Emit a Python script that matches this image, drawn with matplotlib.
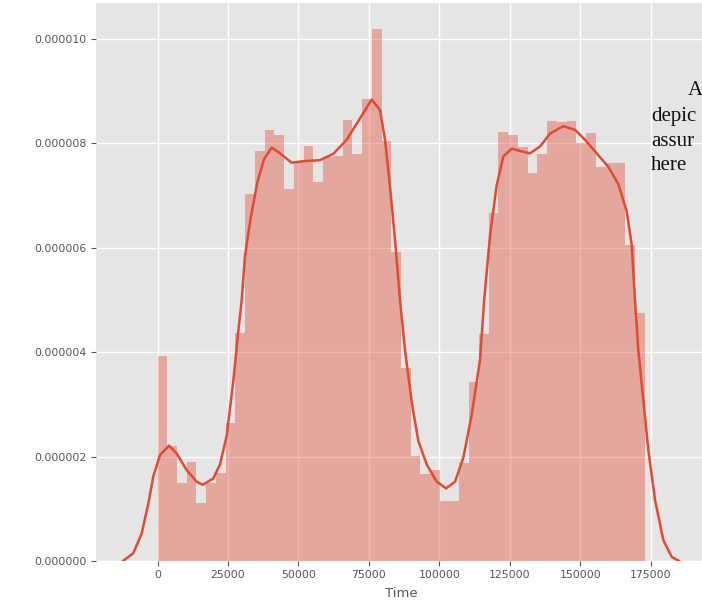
"""
Distribution of transaction Time: histogram + kde, ggplot look.
"""
import numpy as np
import matplotlib
matplotlib.use('Agg')
import matplotlib.pyplot as plt
from matplotlib.ticker import FormatStrFormatter

# histogram: 50 equal bins between the min and max Time
time_min = 0
time_max = 172792
n_bins = 50
# density per bin, in units of 1e-6
bin_density = [
    3.93, 2.21, 1.50, 1.90, 1.11, 1.50, 1.68, 2.64, 4.36, 7.04,
    7.85, 8.25, 8.17, 7.12, 7.65, 7.95, 7.27, 7.74, 7.75, 8.45,
    7.80, 8.85, 10.20, 8.05, 5.92, 3.70, 2.02, 1.66, 1.75, 1.14,
    1.14, 1.88, 3.42, 4.34, 6.66, 8.21, 8.17, 7.94, 7.44, 7.80,
    8.42, 8.41, 8.42, 8.00, 8.20, 7.55, 7.63, 7.63, 6.05, 4.75,
]

# kde curve (Time, density in 1e-6)
kde_time = [
    -12250, -8590, -5600, -3260, -1490, 890, 4100, 6810, 10360, 13900,
    16000, 19800, 22180, 24550, 26900, 28670, 29870, 31050, 33000, 35400,
    37800, 40500, 43460, 47610, 51730, 57650, 62370, 67130, 71850, 76000,
    78940, 80720, 82490, 84270, 86040, 87810, 90180, 92540, 95510, 99060,
    102360, 105560, 108500, 111480, 114420, 115900, 118000, 120350, 122690, 125670,
    128970, 132160, 135710, 139260, 143980, 148130, 151680, 155830, 159950, 163490,
    166470, 168250, 169400, 170590, 172360, 174130, 176510, 179450, 182430, 185040,
]
kde_density = [
    0.00, 0.15, 0.53, 1.10, 1.62, 2.03, 2.21, 2.06, 1.74, 1.52,
    1.46, 1.58, 1.85, 2.40, 3.45, 4.40, 5.00, 5.85, 6.55, 7.25,
    7.70, 7.92, 7.81, 7.63, 7.66, 7.68, 7.80, 8.07, 8.48, 8.84,
    8.64, 8.07, 7.17, 6.15, 5.00, 4.04, 3.05, 2.30, 1.85, 1.52,
    1.39, 1.52, 1.98, 2.80, 3.85, 5.00, 6.25, 7.20, 7.75, 7.90,
    7.85, 7.81, 7.94, 8.19, 8.33, 8.26, 8.07, 7.81, 7.55, 7.22,
    6.70, 6.05, 5.00, 4.04, 3.08, 2.13, 1.17, 0.40, 0.08, 0.00,
]

x_ticks = [0, 25000, 50000, 75000, 100000, 125000, 150000, 175000]
y_ticks = [0, 2e-6, 4e-6, 6e-6, 8e-6, 10e-6]

# bits of the surrounding document text that sit on top of the screenshot
side_text = ['A', 'depic', 'assur', 'here']

plt.style.use('ggplot')
plt.rcParams['font.family'] = 'DejaVu Sans'

fig = plt.figure(figsize=(7.02, 6.05), dpi=100)
fig.patch.set_facecolor('white')
W, H = 702, 605
ax = fig.add_axes([96 / W, 44 / H, 610 / W, 558 / H])

edges = np.linspace(time_min, time_max, n_bins + 1)
heights = np.array(bin_density) * 1e-6
ax.bar(edges[:-1], heights, width=np.diff(edges), align='edge',
       color='#E24A33', alpha=0.4, linewidth=0)

ax.plot(kde_time, np.array(kde_density) * 1e-6, color='#E24A33',
        linewidth=1.8, solid_joinstyle='round')

ax.set_xlim(-21820, 194600)
ax.set_ylim(0, 10.69e-6)
ax.set_xticks(x_ticks)
ax.set_yticks(y_ticks)
ax.yaxis.set_major_formatter(FormatStrFormatter('%.6f'))
ax.tick_params(axis='both', labelsize=7.8, colors='#555555', length=3.5, width=0.8, pad=3)
ax.set_xlabel('Time', fontsize=9.5, color='#555555', labelpad=5)
ax.grid(True, color='white', linewidth=1.0)
ax.set_axisbelow(True)
for s in ax.spines.values():
    s.set_visible(False)

# overlapping serif text on the right edge
fig.text(688 / W, 1 - 95 / H, side_text[0], fontsize=15, family='Liberation Serif',
         color='#111111', va='baseline', ha='left')
for i, word in enumerate(side_text[1:]):
    yb = 121 + 24.5 * i
    fig.text(651 / W, 1 - yb / H, word, fontsize=15, family='Liberation Serif',
             color='#111111', va='baseline', ha='left')

fig.savefig('out.png', dpi=100, facecolor='white')
